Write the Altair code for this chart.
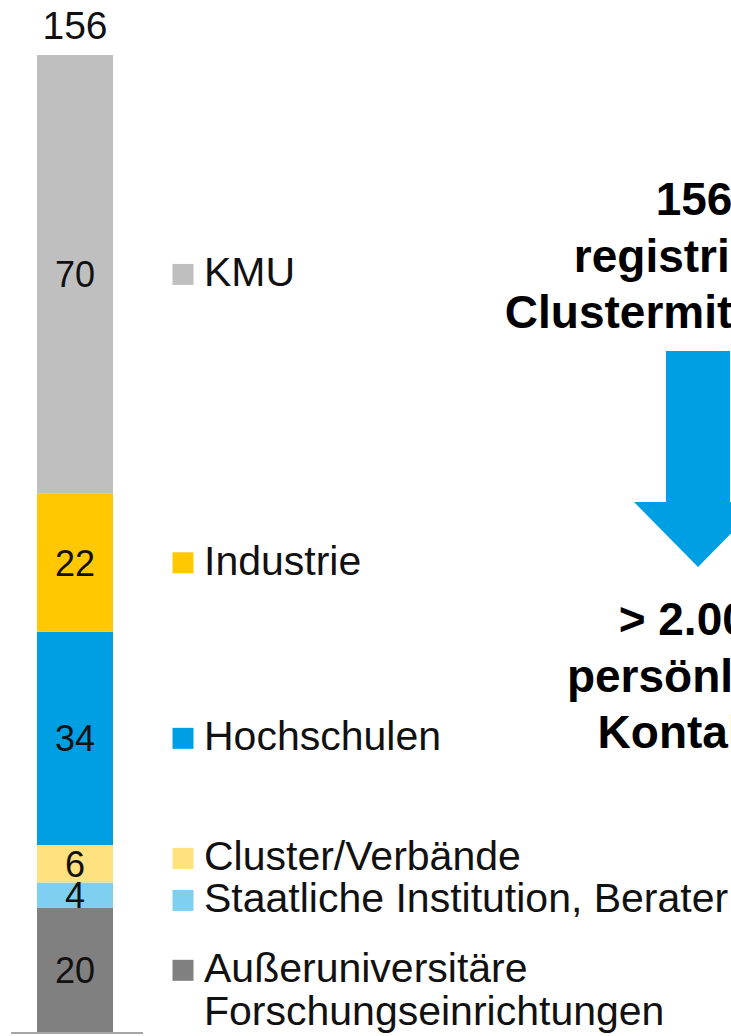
import altair as alt
import pandas as pd

# ---- data (top of legend to bottom of bar) ----
categories = [
    "KMU",
    "Industrie",
    "Hochschulen",
    "Cluster/Verbände",
    "Staatliche Institution, Berater",
    "Außeruniversitäre\nForschungseinrichtungen",
]
values = [70, 22, 34, 6, 4, 20]
colors = ["#BFBFBF", "#FFC800", "#009FE3", "#FFE17F", "#7FCFF0", "#808080"]
headline = ["156", "registrierte", "Clustermitglieder"]
footline = ["> 2.000", "persönliche", "Kontakte"]

FONT = "Liberation Sans, Arial, Helvetica, sans-serif"
PX_PER_UNIT = 978 / sum(values)

# stack from bottom (last category) upwards
n = len(categories)
df = pd.DataFrame({"cat": categories, "value": values, "order": [n - 1 - i for i in range(n)]})
bottom_up = df.sort_values("order").reset_index(drop=True)
bottom_up["y0"] = bottom_up["value"].cumsum() - bottom_up["value"]
bottom_up["mid"] = bottom_up["y0"] + bottom_up["value"] / 2

# legend positions: segment centres, spread apart where too close
min_gap = 42 / PX_PER_UNIT
leg = list(bottom_up["mid"])
for i in range(1, len(leg)):
    if leg[i] - leg[i - 1] < min_gap:
        c = (leg[i] + leg[i - 1]) / 2
        leg[i - 1] = c - min_gap / 2
        leg[i] = c + min_gap / 2
bottom_up["legend_y"] = leg
data = bottom_up[["cat", "value", "order", "legend_y"]]

yscale = alt.Scale(domain=[0, sum(values)], nice=False, zero=True)
cscale = alt.Scale(domain=categories, range=colors)

base = alt.Chart(data)

bars = base.transform_stack(
    stack="value", as_=["y0", "y1"], groupby=[], sort=[alt.SortField("order", order="ascending")]
).mark_rect().encode(
    x=alt.value(37),
    x2=alt.value(113),
    y=alt.Y("y0:Q", scale=yscale, axis=None),
    y2="y1:Q",
    color=alt.Color("cat:N", scale=cscale, legend=None),
)

bar_labels = base.transform_stack(
    stack="value", as_=["y0", "y1"], groupby=[], sort=[alt.SortField("order", order="ascending")]
).transform_calculate(
    mid="(datum.y0 + datum.y1) / 2"
).mark_text(
    font=FONT, fontSize=36, color="#111111", align="center", baseline="alphabetic", dy=13
).encode(
    x=alt.value(75),
    y=alt.Y("mid:Q", scale=yscale, axis=None),
    text=alt.Text("value:Q"),
)

total_df = pd.DataFrame({"total": [sum(values)], "label": [str(sum(values))]})
total_label = alt.Chart(total_df).mark_text(
    font=FONT, fontSize=39, color="#111111", align="center", baseline="alphabetic", dy=-16
).encode(
    x=alt.value(75),
    y=alt.Y("total:Q", scale=yscale, axis=None),
    text="label:N",
)

axis_line = alt.Chart(pd.DataFrame({"zero": [0]})).mark_rule(
    color="#A6A6A6", strokeWidth=2
).encode(
    x=alt.value(11),
    x2=alt.value(143),
    y=alt.Y("zero:Q", scale=yscale, axis=None),
)

legend_squares = base.mark_square(size=441, opacity=1, filled=True).encode(
    x=alt.value(183),
    y=alt.Y("legend_y:Q", scale=yscale, axis=None),
    color=alt.Color("cat:N", scale=cscale, legend=None),
)

legend_text = base.mark_text(
    font=FONT, fontSize=41, color="#111111", align="left", baseline="alphabetic",
    dy=12, lineBreak="\n", lineHeight=43,
).encode(
    x=alt.value(204),
    y=alt.Y("legend_y:Q", scale=yscale, axis=None),
    text="cat:N",
)

head = alt.Chart(pd.DataFrame({"t": ["\n".join(headline)]})).mark_text(
    font=FONT, fontSize=46, fontWeight="bold", color="#000000", align="center",
    baseline="alphabetic", lineBreak="\n", lineHeight=56.5,
).encode(x=alt.value(694), y=alt.value(160), text="t:N")

foot = alt.Chart(pd.DataFrame({"t": ["\n".join(footline)]})).mark_text(
    font=FONT, fontSize=46, fontWeight="bold", color="#000000", align="center",
    baseline="alphabetic", lineBreak="\n", lineHeight=56.5,
).encode(x=alt.value(696), y=alt.value(580), text="t:N")

arrow_path = "M -0.2963 -1 L 0.2963 -1 L 0.2963 0.398 L 0.5926 0.398 L 0 1 L -0.5926 0.398 L -0.2963 0.398 Z"
arrow = alt.Chart(pd.DataFrame({"a": [1]})).mark_point(
    shape=arrow_path, size=216 * 216, filled=True, opacity=1, color="#009FE3", strokeWidth=0
).encode(x=alt.value(698), y=alt.value(404))

chart = alt.layer(
    bars, bar_labels, total_label, axis_line, legend_squares, legend_text, head, arrow, foot
).properties(
    width=731,
    height=978,
    padding={"left": 0, "top": 55, "right": 0, "bottom": 3},
    autosize=alt.AutoSizeParams(type="none"),
    background="white",
).configure_view(stroke=None)

chart.save("out.html", embed_options={"renderer": "svg", "actions": False})
